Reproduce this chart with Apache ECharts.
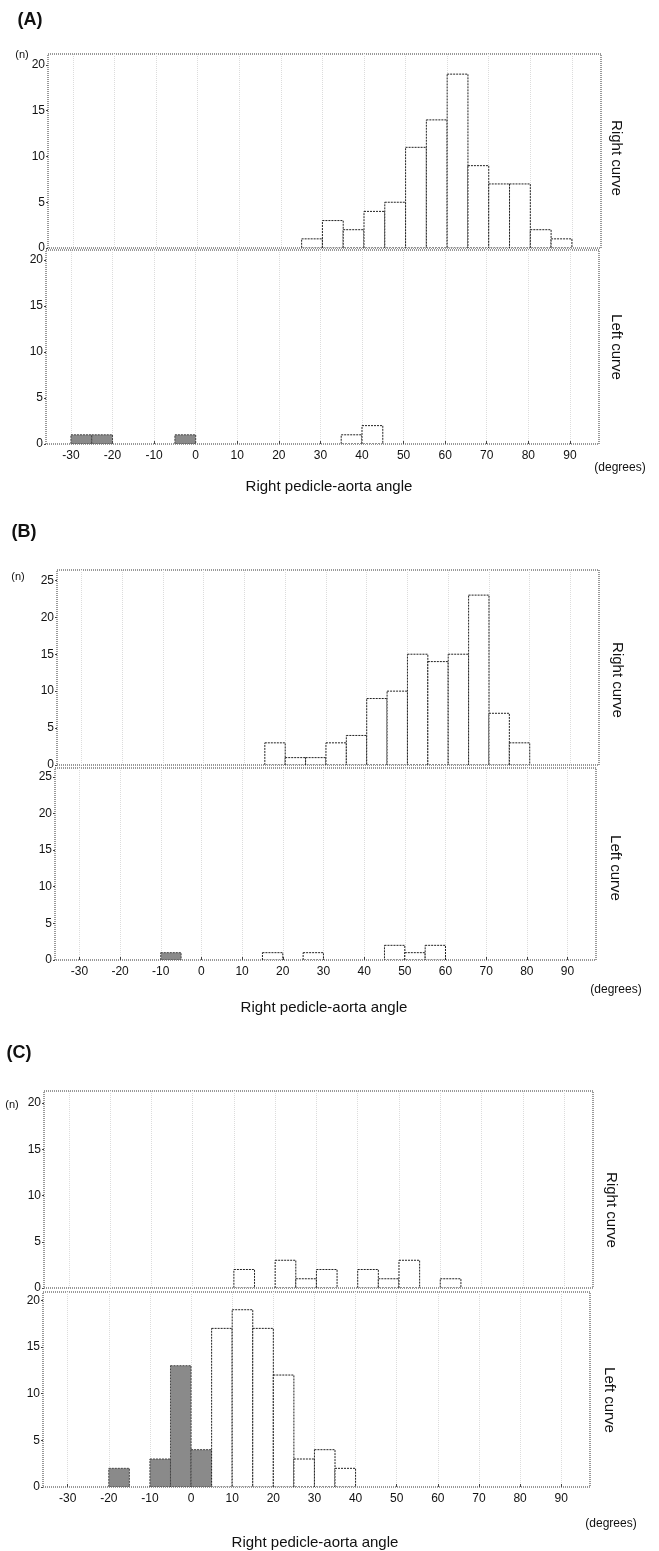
<!DOCTYPE html>
<html>
<head>
<meta charset="utf-8">
<script src="https://cdn.jsdelivr.net/npm/echarts@6/dist/echarts.min.js"></script>
<style>
  html, body { margin: 0; padding: 0; background: #fff; }
  #main { width: 659px; height: 1551px; }
</style>
</head>
<body>
<div id="main"></div>
<script>
// bin left edges, 5 degree bins
const binStarts = [-30, -25, -20, -15, -10, -5, 0, 5, 10, 15, 20, 25, 30, 35, 40, 45, 50, 55, 60, 65, 70, 75, 80, 85]
const binWidth = 5
const xTicks = [-30, -20, -10, 0, 10, 20, 30, 40, 50, 60, 70, 80, 90]

// (A)
const aRight = [0, 0, 0, 0, 0, 0, 0, 0, 0, 0, 0, 1, 3, 2, 4, 5, 11, 14, 19, 9, 7, 7, 2, 1]
const aLeft = [1, 1, 0, 0, 0, 1, 0, 0, 0, 0, 0, 0, 0, 1, 2, 0, 0, 0, 0, 0, 0, 0, 0, 0]
const aShaded = [-30, -25, -5]
const aTicks = [0, 5, 10, 15, 20]

// (B)
const bRight = [0, 0, 0, 0, 0, 0, 0, 0, 0, 3, 1, 1, 3, 4, 9, 10, 15, 14, 15, 23, 7, 3, 0, 0]
const bLeft = [0, 0, 0, 0, 1, 0, 0, 0, 0, 1, 0, 1, 0, 0, 0, 2, 1, 2, 0, 0, 0, 0, 0, 0]
const bShaded = [-10]
const bTicks = [0, 5, 10, 15, 20, 25]

// (C)
const cRight = [0, 0, 0, 0, 0, 0, 0, 0, 2, 0, 3, 1, 2, 0, 2, 1, 3, 0, 1, 0, 0, 0, 0, 0]
const cLeft = [0, 0, 2, 0, 3, 13, 4, 17, 19, 17, 12, 3, 4, 2, 0, 0, 0, 0, 0, 0, 0, 0, 0, 0]
const cShaded = [-20, -10, -5, 0]
const cTicks = [0, 5, 10, 15, 20]

const font = "'Liberation Sans', Arial, sans-serif"

// one entry per sub-panel
const panels = [
  { grid: { left: 48, top: 54, width: 553, height: 194 }, counts: aRight, shaded: [], yMax: 21.2, yTicks: aTicks, bottom: false },
  { grid: { left: 46, top: 250, width: 553, height: 194 }, counts: aLeft, shaded: aShaded, yMax: 21.1, yTicks: aTicks, bottom: true },
  { grid: { left: 57, top: 570, width: 542, height: 195 }, counts: bRight, shaded: [], yMax: 26.4, yTicks: bTicks, bottom: false },
  { grid: { left: 55, top: 768, width: 541, height: 192 }, counts: bLeft, shaded: bShaded, yMax: 26.2, yTicks: bTicks, bottom: true },
  { grid: { left: 44, top: 1091, width: 549, height: 197 }, counts: cRight, shaded: [], yMax: 21.3, yTicks: cTicks, bottom: false },
  { grid: { left: 43, top: 1292, width: 547, height: 195 }, counts: cLeft, shaded: cShaded, yMax: 20.9, yTicks: cTicks, bottom: true },
]

function renderBin(params, api) {
  const x0 = api.value(0)
  const n = api.value(1)
  if (!n) return
  const p0 = api.coord([x0, 0])
  const p1 = api.coord([x0 + binWidth, n])
  const shaded = api.value(2) === 1
  return {
    type: 'rect',
    shape: { x: p0[0], y: p1[1], width: p1[0] - p0[0], height: p0[1] - p1[1] },
    style: {
      fill: shaded ? '#8a8a8a' : '#fff',
      stroke: shaded ? '#444' : '#222',
      lineWidth: 1,
      lineDash: [2, 1],
    },
  }
}

const grids = panels.map((p) => Object.assign({
  show: true,
  borderColor: '#333',
  borderWidth: 1,
  borderType: 'dotted',
  backgroundColor: 'transparent',
}, p.grid))

const xAxes = panels.map((p, i) => ({
  type: 'value',
  gridIndex: i,
  min: -36,
  max: 97,
  axisLine: { show: false, onZero: false },
  axisTick: { show: p.bottom, length: 3, inside: true, customValues: xTicks, lineStyle: { color: '#444' } },
  axisLabel: { show: p.bottom, customValues: xTicks, margin: 6, fontSize: 12, color: '#111', fontFamily: font },
  splitLine: { show: true, lineStyle: { color: '#dcdcdc', type: 'dotted' } },
}))

const yAxes = panels.map((p, i) => ({
  type: 'value',
  gridIndex: i,
  position: 'left',
  min: 0,
  max: p.yMax,
  axisLine: { show: false, onZero: false },
  axisTick: { show: true, length: 2, customValues: p.yTicks, lineStyle: { color: '#444' } },
  axisLabel: { customValues: p.yTicks, margin: 3, fontSize: 12, color: '#111', fontFamily: font },
  splitLine: { show: false },
}))

const series = panels.map((p, i) => ({
  type: 'custom',
  xAxisIndex: i,
  yAxisIndex: i,
  renderItem: renderBin,
  clip: true,
  data: binStarts.map((b, k) => [b, p.counts[k], p.shaded.indexOf(b) >= 0 ? 1 : 0]),
}))

function txt(x, y, text, size, opts) {
  return Object.assign({
    type: 'text',
    x: x,
    y: y,
    style: {
      text: text,
      fontSize: size,
      fontFamily: font,
      fill: '#111',
      align: 'center',
      verticalAlign: 'middle',
    },
  }, opts || {})
}

function side(x, y, text) {
  return txt(x, y, text, 15, { rotation: -Math.PI / 2 })
}

function bold(x, y, text) {
  const t = txt(x, y, text, 18)
  t.style.fontWeight = 'bold'
  return t
}

const graphics = [
  bold(30, 20, '(A)'), bold(24, 532, '(B)'), bold(19, 1053, '(C)'),
  txt(22, 55, '(n)', 11), txt(18, 577, '(n)', 11), txt(12, 1105, '(n)', 11),
  side(616, 158, 'Right curve'), side(616, 347, 'Left curve'),
  side(617, 680, 'Right curve'), side(615, 868, 'Left curve'),
  side(611, 1210, 'Right curve'), side(609, 1400, 'Left curve'),
  txt(329, 487, 'Right pedicle-aorta angle', 15), txt(324, 1008, 'Right pedicle-aorta angle', 15),
  txt(315, 1543, 'Right pedicle-aorta angle', 15),
  txt(620, 468, '(degrees)', 12), txt(616, 990, '(degrees)', 12), txt(611, 1524, '(degrees)', 12),
]

const chart = echarts.init(document.getElementById('main'))
chart.setOption({
  animation: false,
  backgroundColor: '#fff',
  grid: grids,
  xAxis: xAxes,
  yAxis: yAxes,
  series: series,
  graphic: graphics,
})
</script>
</body>
</html>
